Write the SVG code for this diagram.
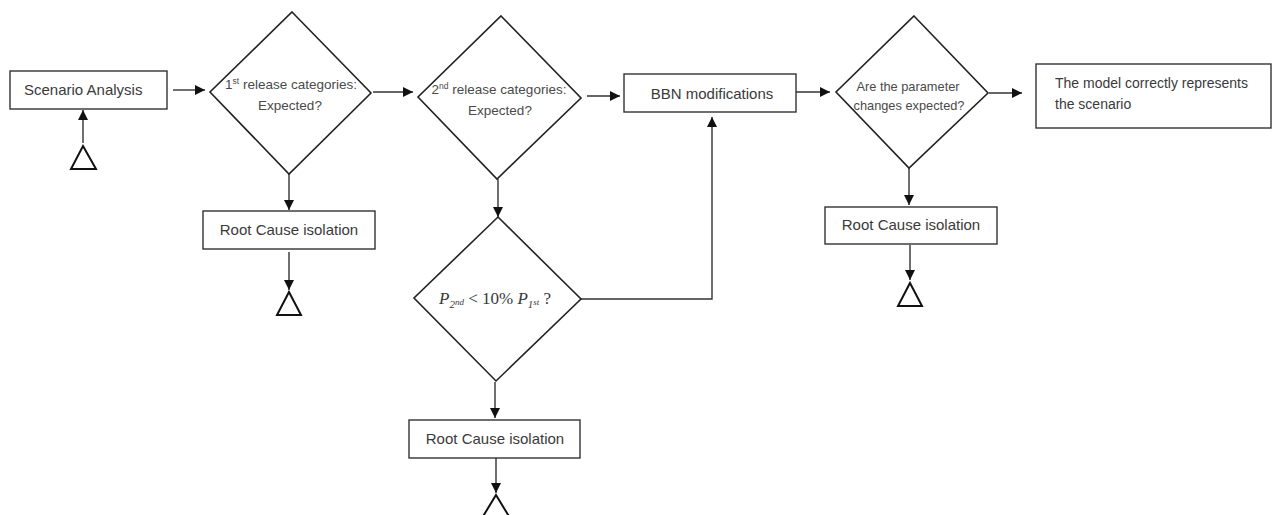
<svg xmlns="http://www.w3.org/2000/svg" width="1273" height="515" viewBox="0 0 1273 515">
<style>
.box{fill:#fff;stroke:#333;stroke-width:1.4}
.dia{fill:#fff;stroke:#222;stroke-width:1.6}
.tri{fill:#fff;stroke:#111;stroke-width:2}
.con{fill:none;stroke:#333;stroke-width:1.4}
.t{font-family:"Liberation Sans",Arial,sans-serif;fill:#3a3a3a}
.d{font-family:"Liberation Sans",Arial,sans-serif;fill:#4a4a4a}
.m{font-family:"Liberation Serif","Times New Roman",serif;font-style:italic;fill:#3a3a3a}
</style>
<defs>
<marker id="ahb" viewBox="0 0 10 10" refX="10" refY="5" markerWidth="10" markerHeight="10" markerUnits="userSpaceOnUse" orient="auto">
<path d="M0,0 L10,5 L0,10 z" fill="#111"/>
</marker>
</defs>
<rect width="1273" height="515" fill="#fff"/>

<g id="connectors">
<line class="con" x1="173" y1="90" x2="205" y2="90" marker-end="url(#ahb)"/>
<line class="con" x1="83" y1="143" x2="83" y2="110" marker-end="url(#ahb)"/>
<line class="con" x1="373" y1="92" x2="413" y2="92" marker-end="url(#ahb)"/>
<line class="con" x1="587" y1="96" x2="620" y2="96" marker-end="url(#ahb)"/>
<line class="con" x1="796" y1="92" x2="830" y2="92" marker-end="url(#ahb)"/>
<line class="con" x1="989" y1="93" x2="1022" y2="93" marker-end="url(#ahb)"/>
<line class="con" x1="289" y1="174" x2="289" y2="210" marker-end="url(#ahb)"/>
<line class="con" x1="289" y1="252" x2="289" y2="290" marker-end="url(#ahb)"/>
<line class="con" x1="498" y1="179" x2="498" y2="217" marker-end="url(#ahb)"/>
<polyline class="con" points="581,299 712,299 712,117" marker-end="url(#ahb)"/>
<line class="con" x1="495" y1="382" x2="495" y2="418" marker-end="url(#ahb)"/>
<line class="con" x1="496" y1="458" x2="496" y2="493" marker-end="url(#ahb)"/>
<line class="con" x1="909" y1="168" x2="909" y2="205" marker-end="url(#ahb)"/>
<line class="con" x1="910" y1="245" x2="910" y2="280" marker-end="url(#ahb)"/>
</g>

<g id="scenario-analysis">
<rect class="box" x="10" y="71" width="157" height="38"/>
<text class="t" x="24" y="95" font-size="15">Scenario Analysis</text>
</g>
<g id="start-triangle">
<polygon class="tri" points="83,146 96,169 71,169"/>
</g>

<g id="decision-1">
<polygon class="dia" points="292,12 371,93 289,174 210,92"/>
<text class="d" x="291" y="89" font-size="13.5" text-anchor="middle">1<tspan font-size="8.5" dy="-5">st</tspan><tspan dy="5"> release categories:</tspan></text>
<text class="d" x="290" y="110" font-size="13.5" text-anchor="middle">Expected?</text>
</g>

<g id="root-cause-1">
<rect class="box" x="203" y="211" width="172" height="38"/>
<text class="t" x="289" y="235" font-size="15" text-anchor="middle">Root Cause isolation</text>
</g>
<g id="end-triangle-1">
<polygon class="tri" points="289,292 301,315 277,315"/>
</g>

<g id="decision-2">
<polygon class="dia" points="501,16 581,98 497,179 418,97"/>
<text class="d" x="499" y="94" font-size="13.5" text-anchor="middle">2<tspan font-size="8.5" dy="-5">nd</tspan><tspan dy="5"> release categories:</tspan></text>
<text class="d" x="500" y="115" font-size="13.5" text-anchor="middle">Expected?</text>
</g>

<g id="bbn-modifications">
<rect class="box" x="624" y="74" width="172" height="38"/>
<text class="t" x="712" y="99" font-size="15" text-anchor="middle">BBN modifications</text>
</g>

<g id="decision-3">
<polygon class="dia" points="498,217 581,299 496,381 414,298"/>
<text class="m" x="439" y="304" font-size="17">P<tspan font-size="11" dy="4">2</tspan><tspan font-size="9" dy="-3">nd</tspan><tspan font-style="normal" font-size="17" dy="-1"> &lt; 10%  </tspan>P<tspan font-size="11" dy="4">1</tspan><tspan font-size="9" dy="-3">st</tspan><tspan font-style="normal" font-size="17" dy="-1"> ?</tspan></text>
</g>

<g id="root-cause-2">
<rect class="box" x="409" y="420" width="171" height="38"/>
<text class="t" x="495" y="444" font-size="15" text-anchor="middle">Root Cause isolation</text>
</g>
<g id="end-triangle-2">
<polygon class="tri" points="496,495 510,518 482,518"/>
</g>

<g id="decision-4">
<polygon class="dia" points="914,16 988,93 909,168 836,92"/>
<text class="d" x="908" y="91" font-size="12.8" text-anchor="middle">Are the parameter</text>
<text class="d" x="909" y="110" font-size="12.8" text-anchor="middle">changes expected?</text>
</g>

<g id="root-cause-3">
<rect class="box" x="825" y="207" width="172" height="37"/>
<text class="t" x="911" y="230" font-size="15" text-anchor="middle">Root Cause isolation</text>
</g>
<g id="end-triangle-3">
<polygon class="tri" points="910,283 922,306 898,306"/>
</g>

<g id="model-correct">
<rect class="box" x="1036" y="64" width="235" height="64"/>
<text class="t" x="1055" y="88" font-size="14">The model correctly represents</text>
<text class="t" x="1055" y="109" font-size="14">the scenario</text>
</g>
</svg>
